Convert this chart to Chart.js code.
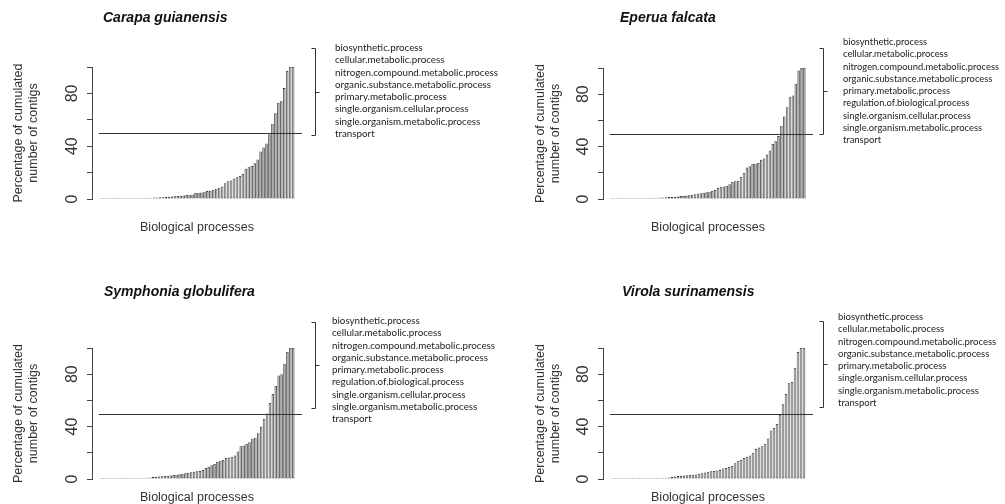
<!DOCTYPE html>
<html>
<head>
  <title>Cumulated contigs per biological process</title>
  <script src="https://cdn.jsdelivr.net/npm/chart.js"></script>
  <style>
    body {
      margin: 0;
      width: 1005px;
      height: 504px;
      overflow: hidden;
      background: #fff;
      position: relative;
    }
    .panel {
      position: absolute;
      width: 505px;
      height: 240px;
    }
    .panel canvas {
      position: absolute;
      left: 0;
      top: 0;
    }
    .title {
      position: absolute;
      font: italic bold 14px "Liberation Sans", Arial, sans-serif;
      color: #111;
      line-height: 16px;
      white-space: nowrap;
    }
    .processes {
      position: absolute;
      font-family: Lato, sans-serif;
      color: #222;
      line-height: 12.3px;
      white-space: nowrap;
    }
  </style>
</head>
<body>
  <div id="panels"></div>

  <script>
    // cumulated % of contigs, one bar per biological process (sorted)
    const carapaValues = [0, 0, 0, 0, 0, 0, 0, 0, 0, 0, 0,
      0.5, 0.5, 0.6, 0.7, 0.8, 0.9, 1.0, 1.1,
      1.2, 1.3, 1.4, 1.5, 1.7, 1.9, 2.1, 2.3,
      2.5, 2.7, 3.0, 3.2, 3.5,
      4.5, 4.8, 5.0, 5.5, 6.0,
      6.3, 7.0, 7.8, 8.5, 9.5,
      12, 13.5, 14, 15.5, 16.5,
      17.5, 19, 23, 24,
      25, 27, 30, 36,
      39, 42, 49, 57, 65,
      73, 74, 84,
      97, 100, 100];

    const eperuaValues = [0, 0, 0, 0, 0, 0, 0, 0, 0, 0, 0,
      0.4, 0.5, 0.6, 0.7, 0.8, 1.0, 1.1, 1.2,
      1.3, 1.5, 1.6, 1.8, 2.0, 2.2, 2.4, 2.6,
      2.9, 3.2, 3.6, 4.0, 4.4,
      4.8, 5.2, 5.6, 6.2, 7.0,
      8.5, 9.3, 9.6, 10.2, 11.2,
      13, 13.5, 14, 17, 20,
      24, 25, 27, 27,
      27.5, 30, 31, 34,
      37, 42, 44, 48, 56,
      63, 70, 78,
      79, 88, 98, 100, 100];

    const symphoniaValues = [0, 0, 0, 0, 0, 0, 0, 0, 0, 0, 0,
      0.3, 0.4, 0.5, 0.6, 0.7, 0.9, 1.2, 1.5,
      1.7, 1.9, 2.1, 2.3, 2.5, 2.7, 3.0, 3.3,
      3.6, 4.0, 4.4, 4.8, 5.2,
      5.6, 6.0, 6.2, 7.0, 8.5,
      9.2, 10.5, 11.5, 13, 14,
      14.5, 16, 16.5, 17, 18,
      21, 25, 25.5, 27,
      28, 31, 31.5, 35,
      40, 46, 50, 58, 65,
      71, 79, 80,
      88, 97, 100, 100];

    const virolaValues = [0, 0, 0, 0, 0, 0, 0, 0, 0, 0, 0,
      0.3, 0.4, 0.5, 0.5, 0.6, 0.7, 0.8, 1.0,
      1.2, 1.5, 2.0, 2.2, 2.4, 2.6, 2.8, 3.0,
      3.2, 3.5, 4.0, 4.4, 5.0,
      5.5, 6.0, 6.2, 6.5, 7.0,
      8.0, 8.5, 9.2, 10, 12,
      14, 14.5, 16, 17, 18,
      20, 23, 24, 25,
      27, 31, 37, 39,
      42, 49, 57, 65,
      73, 74, 85,
      97, 100, 100];

    const processesEight = ['biosynthetic.process', 'cellular.metabolic.process',
      'nitrogen.compound.metabolic.process', 'organic.substance.metabolic.process',
      'primary.metabolic.process', 'single.organism.cellular.process',
      'single.organism.metabolic.process', 'transport'];

    const processesNine = ['biosynthetic.process', 'cellular.metabolic.process',
      'nitrogen.compound.metabolic.process', 'organic.substance.metabolic.process',
      'primary.metabolic.process', 'regulation.of.biological.process',
      'single.organism.cellular.process', 'single.organism.metabolic.process', 'transport'];

    const yTickValues = [0, 20, 40, 60, 80, 100];
    const yTickLabels = [0, 40, 80];
    const halfLevel = 50;

    const W = 505;
    const H = 240;

    // layout of the 4 panels (pixel positions inside each panel)
    const panels = [
      { name: 'Carapa guianensis', values: carapaValues, processes: processesEight,
        left: 0, top: 0, axisX: 92, top100: 67, bottom0: 199, right: 302, yTitleX: 19,
        titleLeft: 103, titleY: 17, bracket: { x: 315, top: 48, bottom: 135 },
        listX: 335, listY: 47, listFont: 9.8 },
      { name: 'Eperua falcata', values: eperuaValues, processes: processesNine,
        left: 500, top: 0, axisX: 103, top100: 68, bottom0: 199, right: 313, yTitleX: 41,
        titleLeft: 120, titleY: 17, bracket: { x: 323, top: 48, bottom: 134 },
        listX: 343, listY: 42, listFont: 9.4 },
      { name: 'Symphonia globulifera', values: symphoniaValues, processes: processesNine,
        left: 0, top: 270, axisX: 92, top100: 78, bottom0: 209, right: 302, yTitleX: 19,
        titleLeft: 104, titleY: 21, bracket: { x: 315, top: 52, bottom: 138 },
        listX: 332, listY: 50, listFont: 9.8 },
      { name: 'Virola surinamensis', values: virolaValues, processes: processesEight,
        left: 500, top: 270, axisX: 103, top100: 78, bottom0: 209, right: 313, yTitleX: 41,
        titleLeft: 122, titleY: 21, bracket: { x: 323, top: 51, bottom: 137 },
        listX: 338, listY: 47, listFont: 9.5 }
    ];

    Chart.defaults.font.family = '"Liberation Sans", Arial, sans-serif';

    // 50% line + the curly bracket pointing at the process list
    const refLinePlugin = {
      id: 'refLine',
      afterDatasetsDraw(chart, args, opts) {
        const { ctx, chartArea, scales } = chart;
        const y = Math.round(scales.y.getPixelForValue(halfLevel)) + 0.5;
        ctx.save();
        ctx.strokeStyle = '#333';
        ctx.lineWidth = 1;
        ctx.beginPath();
        ctx.moveTo(scales.x.getPixelForValue(-0.7), y);
        ctx.lineTo(chartArea.right, y);
        ctx.stroke();

        const bx = opts.x + 0.5;
        const top = opts.top + 0.5;
        const bottom = opts.bottom + 0.5;
        const mid = Math.round((opts.top + opts.bottom) / 2) + 0.5;
        ctx.beginPath();
        ctx.moveTo(bx - 4, top);
        ctx.lineTo(bx, top);
        ctx.lineTo(bx, bottom);
        ctx.lineTo(bx - 4, bottom);
        ctx.moveTo(bx, mid);
        ctx.lineTo(bx + 4, mid);
        ctx.stroke();
        ctx.restore();
      }
    };

    const container = document.getElementById('panels');

    panels.forEach(function(p) {
      const box = document.createElement('div');
      box.className = 'panel';
      box.style.left = p.left + 'px';
      box.style.top = p.top + 'px';

      const canvas = document.createElement('canvas');
      canvas.width = W;
      canvas.height = H;
      box.appendChild(canvas);

      const title = document.createElement('div');
      title.className = 'title';
      title.textContent = p.name;
      title.style.left = p.titleLeft + 'px';
      title.style.top = (p.titleY - 8) + 'px';
      box.appendChild(title);

      const list = document.createElement('div');
      list.className = 'processes';
      list.innerHTML = p.processes.join('<br>');
      list.style.fontSize = p.listFont + 'px';
      list.style.left = p.listX + 'px';
      list.style.top = (p.listY - 6) + 'px';
      box.appendChild(list);

      container.appendChild(box);

      new Chart(canvas, {
        type: 'bar',
        data: {
          labels: p.values.map((v, i) => i),
          datasets: [{
            data: p.values,
            backgroundColor: '#a9a9a9',
            borderColor: '#2e2e2e',
            borderWidth: 0.8,
            borderSkipped: false,
            minBarLength: 1,
            categoryPercentage: 1,
            barPercentage: 0.85
          }]
        },
        options: {
          responsive: false,
          animation: false,
          layout: {
            padding: { top: p.top100, right: W - p.right, bottom: 0, left: 0 }
          },
          plugins: {
            legend: { display: false },
            tooltip: { enabled: false },
            refLine: p.bracket
          },
          scales: {
            x: {
              type: 'linear',
              offset: false,
              min: -3,
              max: p.values.length + 2,
              ticks: { display: false },
              grid: { display: false },
              border: { display: false },
              title: {
                display: true,
                text: 'Biological processes',
                color: '#333',
                font: { size: 12.5 },
                padding: { top: 0, bottom: 4.5 }
              },
              afterFit: function(scale) { scale.height = H - p.bottom0; }
            },
            y: {
              min: 0,
              max: 100,
              afterBuildTicks: function(scale) {
                scale.ticks = yTickValues.map(v => ({ value: v }));
              },
              ticks: {
                minRotation: 90,
                maxRotation: 90,
                crossAlign: 'center',
                padding: 6,
                color: '#333',
                font: { size: 16 },
                callback: v => yTickLabels.includes(v) ? String(v) : ''
              },
              grid: { drawOnChartArea: false, tickLength: 5, color: '#444' },
              border: { color: '#444' },
              title: {
                display: true,
                text: ['Percentage of cumulated', 'number of contigs'],
                color: '#333',
                font: { size: 12.5 },
                padding: { top: p.yTitleX - 7.5, bottom: 0 }
              },
              afterFit: function(scale) { scale.width = p.axisX; }
            }
          }
        },
        plugins: [refLinePlugin]
      });
    });
  </script>
</body>
</html>
